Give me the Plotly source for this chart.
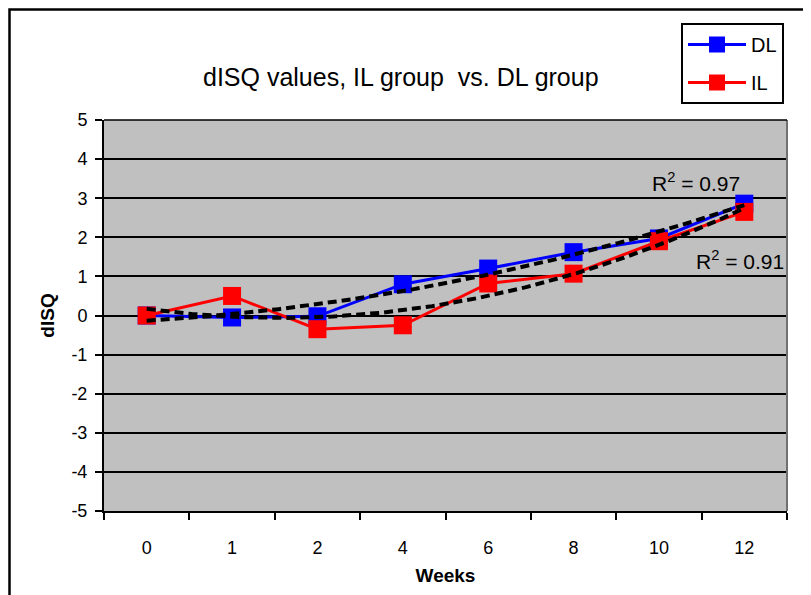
import numpy as np
import plotly.graph_objects as go

weeks = ["0", "1", "2", "4", "6", "8", "10", "12"]
dl_values = [0.0, -0.05, -0.02, 0.80, 1.20, 1.62, 1.97, 2.86]
il_values = [0.0, 0.50, -0.35, -0.25, 0.82, 1.07, 1.90, 2.65]
y_ticks = [-5, -4, -3, -2, -1, 0, 1, 2, 3, 4, 5]
y_tick_labels = ["-5", "-4", "-3", "-2", "-1", "0", "1", "2", "3", "4", "5"]
r2_labels = ["R<sup>2</sup> = 0.97", "R<sup>2</sup> = 0.91"]

OFF = 8  # page body margin
W, H = 811 - OFF, 595 - OFF
L, R, T, B = 104 - OFF, 787 - OFF, 120 - OFF, 511 - OFF
pw, ph = R - L, B - T

x = np.arange(len(weeks))
xf = np.linspace(0, len(weeks) - 1, 200)

def trend(vals, order=2):
    c = np.polyfit(x, vals, order)
    return np.polyval(c, xf)

fig = go.Figure()
fig.add_trace(go.Scatter(x=x, y=dl_values, name="DL", mode="lines+markers",
                         line=dict(color="#0000FF", width=3),
                         marker=dict(symbol="square", size=18, color="#0000FF"),
                         legendgroup="a"))
fig.add_trace(go.Scatter(x=x, y=il_values, name="IL", mode="lines+markers",
                         line=dict(color="#FF0000", width=3),
                         marker=dict(symbol="square", size=18, color="#FF0000"),
                         legendgroup="b"))
for vals in (dl_values, il_values):
    fig.add_trace(go.Scatter(x=xf, y=trend(vals), mode="lines", showlegend=False,
                             line=dict(color="black", width=4, dash="9px,5px")))

def px_x(p):
    return (p - OFF - L) / pw

def px_y(p):
    return (B - (p - OFF)) / ph

fig.update_layout(
    width=W, height=H,
    margin=dict(l=L, r=W - R, t=T, b=H - B, autoexpand=False),
    paper_bgcolor="white", plot_bgcolor="#C0C0C0",
    font=dict(family="Liberation Sans, Arial, sans-serif", color="black", size=17),
    showlegend=True,
    legend=dict(x=px_x(681), y=px_y(23), xanchor="left", yanchor="top",
                bgcolor="white", bordercolor="black", borderwidth=2,
                font=dict(size=20), itemwidth=58, tracegroupgap=9,
                traceorder="grouped"),
    xaxis=dict(range=[-0.5, len(weeks) - 0.5], tickmode="array", tickvals=list(x),
               ticktext=weeks, ticks="", showgrid=False, zeroline=False,
               showline=True, linecolor="black", linewidth=2,
               tickfont=dict(size=18), ticklabelstandoff=19,
               minor=dict(tickmode="linear", tick0=-0.5, dtick=1, ticks="outside",
                          ticklen=7, tickcolor="black", tickwidth=1.5, showgrid=False),
               title=dict(text="<b>Weeks</b>", font=dict(size=19), standoff=12)),
    yaxis=dict(range=[-5, 5], tickmode="array", tickvals=y_ticks,
               ticktext=y_tick_labels, ticks="outside", ticklen=7,
               tickcolor="black", tickwidth=1.5, showgrid=True, gridcolor="black",
               gridwidth=1.5, zeroline=False, showline=True, linecolor="black",
               linewidth=2, tickfont=dict(size=18), ticklabelstandoff=4,
               title=dict(text="<b>dISQ</b>", font=dict(size=19), standoff=12)),
    shapes=[
        dict(type="line", xref="paper", yref="paper", x0=1, x1=1, y0=0, y1=1,
             line=dict(color="#707070", width=2)),
        dict(type="line", xref="paper", yref="paper", x0=0, x1=1, y0=1, y1=1,
             line=dict(color="black", width=1.5)),
        dict(type="rect", xref="paper", yref="paper", x0=px_x(OFF + 1.5), x1=px_x(830),
             y0=px_y(620), y1=px_y(OFF + 1.5), line=dict(color="black", width=2.5),
             layer="below"),
    ],
    annotations=[
        dict(text="dISQ values, IL group\u00a0 vs. DL group", xref="paper", yref="paper",
             x=px_x(401), y=px_y(77), xanchor="center", yanchor="middle",
             showarrow=False, font=dict(size=25)),
        dict(text=r2_labels[0], xref="paper", yref="paper", x=px_x(696), y=px_y(182),
             xanchor="center", yanchor="middle", showarrow=False, font=dict(size=21)),
        dict(text=r2_labels[1], xref="paper", yref="paper", x=px_x(740), y=px_y(260),
             xanchor="center", yanchor="middle", showarrow=False, font=dict(size=21)),
    ],
)

fig.write_html("out.html")
